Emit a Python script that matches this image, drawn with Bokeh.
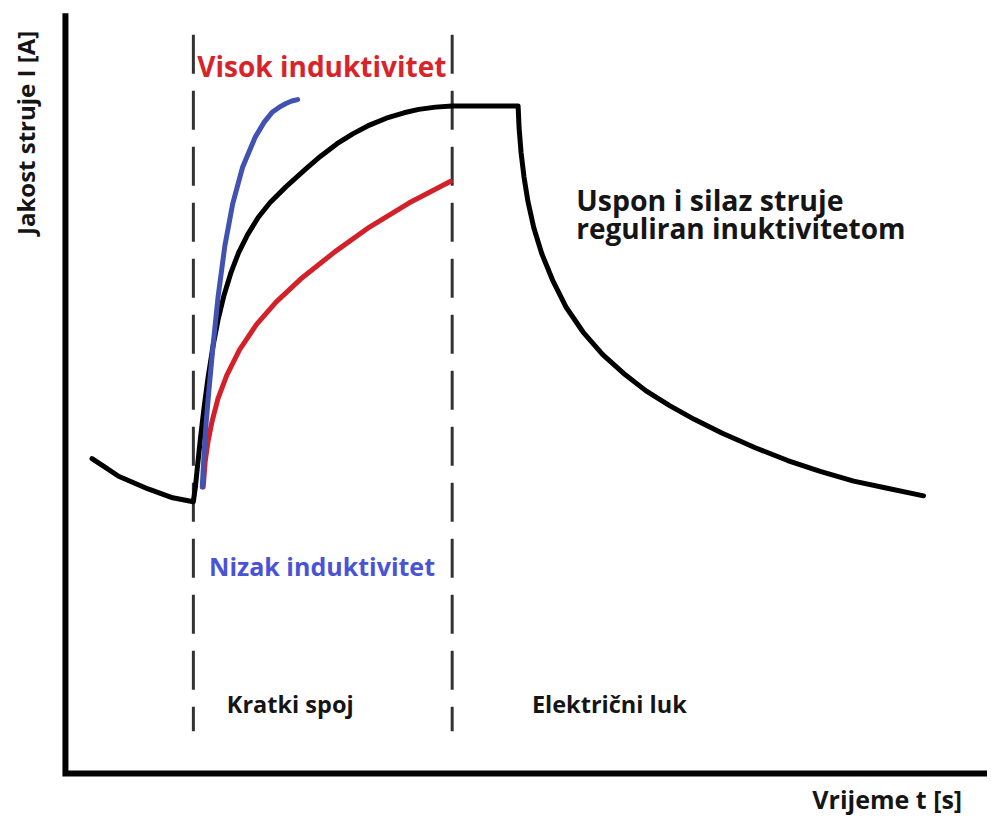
from math import pi
from bokeh.plotting import figure
from bokeh.models import Range1d, Label
from bokeh.embed import file_html
from bokeh.resources import INLINE

# ---- data (time and current in arbitrary units) ----
t_black = [2.7, 3.9, 5.4, 8.4, 10.9, 13.0, 13.2, 13.4, 13.7, 14.1, 14.5, 15.0, 15.5,
           16.1, 16.8, 17.6, 18.5, 19.6, 20.8, 22.4, 24.4, 25.9, 27.6, 29.2, 30.9,
           32.6, 34.4, 35.9, 37.6, 39.3, 46.0, 46.1, 46.3, 46.6, 47.0, 47.6, 48.4,
           49.5, 50.9, 52.6, 54.6, 56.7, 59.0, 61.4, 63.9, 66.7, 70.1, 73.4, 76.7,
           80.1, 83.4, 87.2]
i_black = [32.1, 31.3, 30.3, 29.0, 28.1, 27.7, 29.15, 31.15, 34.0, 37.4, 40.4, 43.6, 46.2,
           48.7, 51.0, 53.1, 54.9, 56.7, 58.2, 59.8, 61.6, 62.9, 64.2, 65.2, 66.1,
           66.8, 67.35, 67.7, 67.93, 68.05, 68.05, 65.8, 63.3, 60.8, 58.3, 55.6, 53.0,
           50.3, 47.5, 45.0, 42.7, 40.8, 39.0, 37.5, 36.1, 34.7, 33.2, 31.9, 30.8,
           29.8, 29.1, 28.3]

t_red = [14.0, 14.2, 14.5, 14.9, 15.5, 16.4, 17.7, 19.4, 21.4, 23.9, 27.4, 30.9, 34.9, 39.1]
i_red = [29.2, 31.8, 33.9, 35.9, 38.2, 40.6, 43.2, 45.75, 48.05, 50.4, 53.2, 55.7, 58.15, 60.35]

t_blue = [13.9, 14.1, 14.3, 14.6, 15.0, 15.5, 16.2, 17.0, 18.0, 19.3, 20.2, 21.0, 21.7,
          22.4, 23.0, 23.6]
i_blue = [29.2, 32.8, 35.8, 39.3, 43.6, 48.5, 53.8, 58.1, 61.8, 64.9, 66.4, 67.4, 67.9,
          68.3, 68.55, 68.7]

phase_bounds = [13.0, 39.3]

y_label = "Jakost struje I [A]"
x_label = "Vrijeme t [s]"
high_L = "Visok induktivitet"
low_L = "Nizak induktivitet"
note_lines = ["Uspon i silaz struje", "reguliran inuktivitetom"]
phase_names = ["Kratki spoj", "Električni luk"]

FONT = "Open Sans"
DARK = "#151515"

p = figure(width=987, height=820, x_range=Range1d(-6.6, 93.7), y_range=Range1d(-4.8, 78.8),
           output_backend="svg", toolbar_location=None, min_border=0,
           x_axis_location=None, y_axis_location=None)
p.outline_line_color = None
p.grid.grid_line_color = None
p.background_fill_color = "white"
p.border_fill_color = "white"

# axes
p.line(x=[0, 0, 95], y=[77.5, 0, 0], line_width=6, line_color="black", line_join="miter")

# phase boundaries
for tb in phase_bounds:
    p.line(x=[tb, tb], y=[75.3, 4.3], line_width=3, line_color="#333333", line_dash="39 17")

# curves
p.line(t_black, i_black, line_width=5, line_color="black", line_join="round", line_cap="round")
p.line(t_red, i_red, line_width=5, line_color="#d3212a", line_join="round", line_cap="round")
p.line(t_blue, i_blue, line_width=5, line_color="#4152b3", line_join="round", line_cap="round")


def lab(x, y, text, size, color, **kw):
    p.add_layout(Label(x=x, y=y, text=text, text_font=FONT, text_font_style="bold",
                       text_font_size=f"{size}px", text_color=color,
                       text_baseline=kw.pop("baseline", "alphabetic"),
                       text_align=kw.pop("align", "left"), **kw))


lab(13.4, 72.15, high_L, 28, "#d8232a")
lab(14.6, 21.1, low_L, 25, "#4a52d6")
lab(51.9, 58.5, note_lines[0], 28.5, DARK)
lab(51.9, 55.65, note_lines[1], 28, DARK)
lab(16.4, 7.1, phase_names[0], 23.5, DARK)
lab(47.4, 7.1, phase_names[1], 23.5, DARK)
lab(75.9, -2.6, x_label, 25, DARK)
lab(-4.1, 65.3, y_label, 24, DARK, angle=pi / 2, align="center", baseline="middle")

open("out.html", "w").write(file_html(p, INLINE))
